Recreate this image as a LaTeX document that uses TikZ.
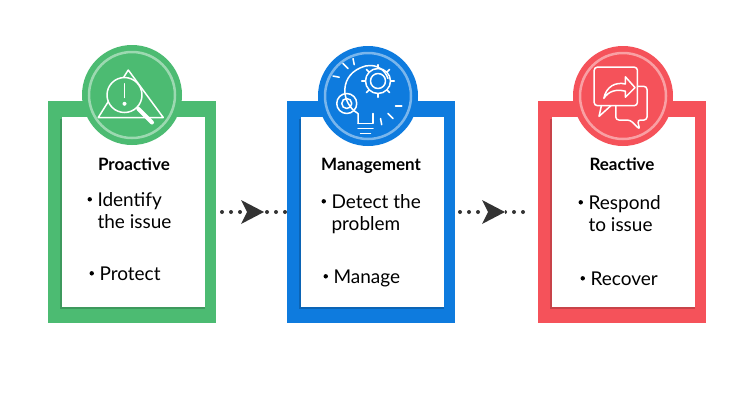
\documentclass[tikz,border=0pt]{standalone}
\usepackage{fontspec}
\setmainfont{Lato}
\usetikzlibrary{arrows.meta,calc}
\definecolor{cg}{HTML}{4CBB72}
\definecolor{cb}{HTML}{0E7BDE}
\definecolor{cr}{HTML}{F5525A}
\definecolor{ar}{HTML}{333333}
\newcommand{\bul}{\makebox[10pt][l]{\raisebox{4.5pt}{\tikz[x=1pt,y=1pt]\fill (0,0) circle[radius=2.2pt];}}}
\tikzset{
 badge/.style={circle,fill=#1,minimum size=100pt,inner sep=0pt},
 ring/.style={circle,draw=white,draw opacity=0.45,line width=2.5pt,minimum size=86pt,inner sep=0pt},
 ttl/.style={font=\bfseries\fontsize{17}{20}\selectfont,anchor=base},
 itm/.style={font=\fontsize{19}{22}\selectfont,anchor=base west,align=left},
 dots/.style={ar,line width=4pt,dash pattern=on 0pt off 9pt,line cap=round},
 head/.style={fill=ar,draw=none},
 ic/.style={white,line width=1.5pt,line cap=round,line join=round}
}
\begin{document}
\begin{tikzpicture}[x=1pt,y=-1pt]
\useasboundingbox[fill=white] (0,0) rectangle (754,402);
% cards
\foreach \x/\c/\n in {48/cg/a,287/cb/b,538/cr/c}{
  \fill[\c] (\x,101) rectangle ++(168,222);
  \fill[black,opacity=0.18] (\x+12,119) rectangle ++(145,190);
  \fill[white] (\x+14,117) rectangle ++(143,190);
}
\node[badge=cg] (ba) at (132,95) {};
\node[badge=cb] (bb) at (368,96) {};
\node[badge=cr] (bc) at (623,96) {};
\foreach \b in {ba,bb,bc}{\node[ring] at (\b) {};}
% icon a: triangle + magnifier
\begin{scope}[shift={(132,95)},scale=1.25]
 \draw[ic] (-3,-20) -- (-27,18) -- (25,18) -- cycle;
 \draw[ic,fill=cg] (-6,0) circle (14);
 \draw[ic] (-6,-9) -- (-6,2); \fill[white] (-6,7) circle (1.6);
 \draw[white,line width=4pt,line cap=round] (5,11) -- (16,22);
\end{scope}
% icon b: bulb + gears
\begin{scope}[shift={(368,96)},scale=1.25]
 \draw[ic] (-8,22) -- (-8,14) .. controls (-22,6) and (-24,-18) .. (-2,-24) .. controls (8,-26) and (14,-20) .. (16,-14);
 \draw[ic] (-8,22) -- (4,22) -- (4,14);
 \draw[ic] (-8,26) -- (4,26); \draw[ic] (-6,30) -- (2,30);
 \draw[ic] (8,-12) circle (6);
 \foreach \a in {0,45,...,315}{\draw[ic] ($(8,-12)+(\a:10)$) -- ($(8,-12)+(\a:13)$);}
 \draw[ic] (8,-12) circle (10);
 \draw[ic] (-17,6) circle (4);
 \draw[ic] (-17,6) circle (8);
 \draw[ic] (-20,-26) -- (-16,-22); \draw[ic] (-12,-30) -- (-11,-25); \draw[ic] (-28,-16) -- (-23,-15);
 \draw[ic] (22,8) -- (27,8); \draw[ic] (16,14) -- (20,18); \draw[ic] (10,18) -- (11,23);
\end{scope}
% icon c: chat bubbles
\begin{scope}[shift={(623,96)},scale=1.2]
 \draw[ic,rounded corners=3pt] (-24,-24) rectangle (12,8);
 \draw[ic] (-18,8) -- (-20,17) -- (-10,8);
 \draw[ic,rounded corners=3pt] (12,-8) -- (20,-8) -- (20,20) -- (12,20) -- (14,28) -- (6,20) -- (-6,20) -- (-6,8);
 \draw[ic] (-16,2) .. controls (-14,-8) and (-6,-12) .. (2,-10) -- (2,-16) -- (10,-7) -- (2,1) -- (2,-4) .. controls (-6,-6) and (-12,-4) .. (-16,2);
\end{scope}
% texts
\node[ttl] (ta) at (134,170) {Proactive};
\node[itm] (ia) at (84,228) {\bul Identify\\\hspace*{10pt}the issue};
\node[itm] (ja) at (86,280) {\bul Protect};
\node[ttl] (tb) at (371,170) {Management};
\node[itm] (ib) at (318,230) {\bul Detect the\\\hspace*{10pt}problem};
\node[itm] (jb) at (320,283) {\bul Manage};
\node[ttl] (tc) at (622,170) {Reactive};
\node[itm] (ic) at (575,231) {\bul Respond\\\hspace*{10pt}to issue};
\node[itm] (jc) at (577,285) {\bul Recover};
% arrows
\coordinate (a1) at (222,212); \coordinate (a2) at (285,212);
\coordinate (b1) at (460,212); \coordinate (b2) at (530,212);
\draw[dots] (a1) -- (a2);
\fill[white] (242,200) rectangle (264,224);
\fill[head] (241,200) -- (264,212) -- (241,224) -- (247,212) -- cycle;
\draw[dots] (b1) -- (b2);
\fill[white] (482,200) rectangle (505,224);
\fill[head] (482,200) -- (505,212) -- (482,224) -- (488,212) -- cycle;
\end{tikzpicture}
\end{document}
